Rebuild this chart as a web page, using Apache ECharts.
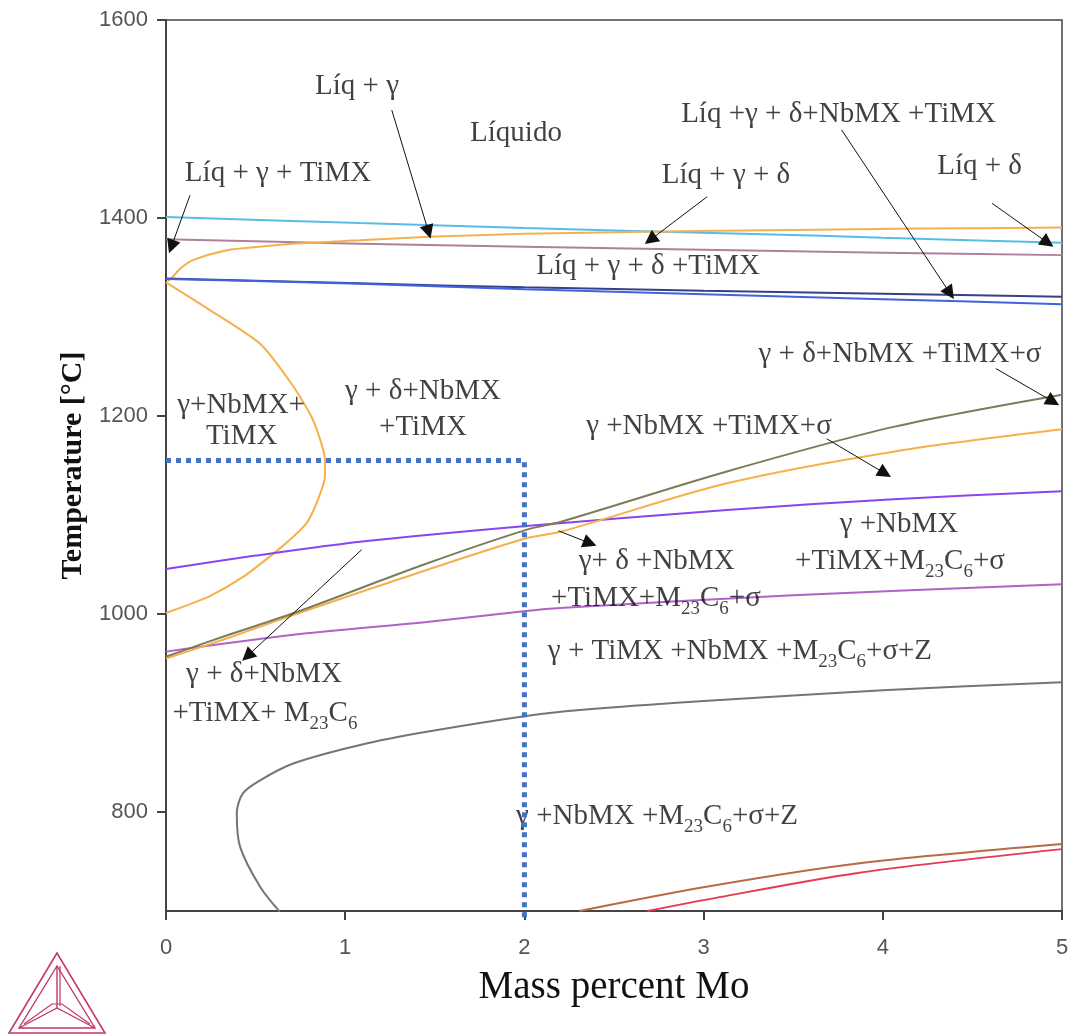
<!DOCTYPE html>
<html><head><meta charset="utf-8">
<script src="https://cdn.jsdelivr.net/npm/echarts@6/dist/echarts.min.js"></script>
<style>html,body{margin:0;padding:0;background:#fff}#c{width:1073px;height:1036px}</style>
</head><body><div id="c"></div>
<script>
// ---- axis ticks ----
const xTicks = [0, 1, 2, 3, 4, 5];
const yTicks = [800, 1000, 1200, 1400, 1600];

// ---- phase boundaries [mass % Mo, T °C] ----
const cyanLine = [[0,1401],[1.08,1395],[2,1390],[3,1385],[3.66,1382],[4,1380],[5,1375]];
const mauveLine = [[0,1378.5],[1.08,1374],[2,1371],[3,1368],[4,1365],[5,1362.5]];
const orangeLiquidus = [[0.01,1336],[0.04,1341],[0.08,1349],[0.15,1357.5],[0.34,1367.5],[0.52,1371],[0.75,1374.5],[1.08,1377.5],[1.47,1381],[2,1384],[2.67,1386],[3.5,1388],[4.2,1389.3],[5,1390.3]];
const navyLine = [[0,1339],[1.08,1334],[2,1330],[3,1326.5],[4,1323.5],[5,1320.5]];
const blueLine = [[0,1338.5],[1.08,1333.5],[2,1328],[3,1323],[4,1318],[5,1313]];
const orangeSolvus = [[0,1335],[0.245,1307],[0.525,1273],[0.71,1230],[0.82,1196],[0.887,1156],[0.887,1139],[0.84,1112],[0.785,1092],[0.71,1078],[0.6,1061],[0.43,1037.5],[0.245,1018],[0.12,1009],[0,1001]];
const oliveLine = [[0,957],[0.35,979],[0.71,1000.7],[1.455,1051],[2.01,1085],[2.2,1093],[3.13,1144],[4.06,1189],[5,1221.5]];
const orangeSigma = [[0,955],[0.35,976],[0.71,999],[1.455,1044.5],[2.01,1076.5],[2.2,1083],[3.13,1132],[4.06,1164],[5,1186.5]];
const violetLine = [[0,1045.5],[0.5,1059],[1.083,1073],[2.01,1089],[3.13,1105],[4.06,1116],[5,1124]];
const magentaLine = [[0,962],[0.71,979],[1.455,992],[2.01,1003],[2.2,1006],[3.5,1019],[5,1030]];
const greyLine = [[5,931],[4,923],[3,912],[2.31,903],[2.01,897],[1.455,881],[1.083,867.7],[0.71,849],[0.525,832],[0.43,819],[0.395,799],[0.413,765],[0.525,724.5],[0.636,699]];
const brownLine = [[2.307,700],[3.015,724.5],[3.86,748],[5,767.6]];
const redLine = [[2.687,700],[3.0,711],[3.86,738.5],[5,762.5]];

// ---- highlighted composition window ----
const dottedFrame = [[0,1155],[2,1155],[2,689]];

// ---- region labels [x, T, text] ----
const regionLabels = [
  [1.066,1533,'Líq + γ'],
  [1.953,1485.9,'Líquido'],
  [0.625,1445.5,'Líq + γ + TiMX'],
  [3.753,1505.1,'Líq +γ + δ+NbMX +TiMX'],
  [3.125,1443.4,'Líq + γ + δ'],
  [4.540,1452.5,'Líq + δ'],
  [2.690,1351.5,'Líq + γ + δ +TiMX'],
  [4.096,1262.6,'γ + δ+NbMX +TiMX+σ'],
  [0.419,1211.1,'γ+NbMX+'],
  [0.422,1179.8,'TiMX'],
  [1.434,1225.3,'γ + δ+NbMX'],
  [1.434,1188.4,'+TiMX'],
  [3.030,1189.9,'γ +NbMX +TiMX+σ'],
  [4.090,1090.9,'γ +NbMX'],
  [4.096,1053.5,'+TiMX+M{s|23}C{s|6}+σ'],
  [2.738,1053.5,'γ+ δ +NbMX'],
  [2.734,1016.2,'+TiMX+M{s|23}C{s|6}+σ'],
  [3.203,962.6,'γ + TiMX +NbMX +M{s|23}C{s|6}+σ+Z'],
  [0.547,939.4,'γ + δ+NbMX'],
  [0.552,900,'+TiMX+ M{s|23}C{s|6}'],
  [2.740,796,'γ +NbMX +M{s|23}C{s|6}+σ+Z']
];

// ---- annotation arrows [from, to] ----
const arrows = [
  [[1.26,1509],[1.465,1386]],
  [[0.134,1423],[0.03,1371]],
  [[3.02,1421.5],[2.703,1378]],
  [[3.77,1489],[4.375,1324]],
  [[4.61,1414.8],[4.92,1375]],
  [[4.63,1248],[4.95,1214.5]],
  [[3.687,1177],[4.012,1142]],
  [[2.19,1084],[2.366,1071.5]],
  [[1.092,1065],[0.454,957.5]]
];

const serif = "'Liberation Serif','Times New Roman',serif";
const sans = "'Liberation Sans',Arial,sans-serif";

function curve(data, color, smooth) {
  return { type:'line', data, symbol:'none', smooth: smooth === undefined ? 0.3 : smooth,
    lineStyle:{ color, width:2 }, silent:true, z:2, animation:false };
}

const series = [
  curve(cyanLine,'#58bde6'),
  curve(mauveLine,'#b07f9c'),
  curve(orangeLiquidus,'#f5b04c'),
  curve(navyLine,'#34428a'),
  curve(blueLine,'#4262e0'),
  curve(orangeSolvus,'#f5b04c',0.2),
  curve(magentaLine,'#b063c6'),
  curve(violetLine,'#8a45f0'),
  curve(orangeSigma,'#f5b04c'),
  curve(oliveLine,'#7e7b58'),
  curve(greyLine,'#757575'),
  curve(brownLine,'#b86a44'),
  curve(redLine,'#e63a52'),
  {
    type:'scatter', silent:true, z:3, animation:false,
    symbolSize:1, itemStyle:{color:'rgba(0,0,0,0)'},
    data: regionLabels.map(l => ({ value:[l[0], l[1]], label:{ formatter:l[2] } })),
    label:{ show:true, position:'inside', align:'center', verticalAlign:'middle',
      fontFamily:serif, fontSize:29, color:'#111',
      rich:{ s:{ fontFamily:serif, fontSize:19, color:'#111', padding:[22,0,0,0] } } }
  },
  {
    type:'lines', coordinateSystem:'cartesian2d', silent:true, z:4, animation:false,
    symbol:['none','triangle'], symbolSize:14,
    lineStyle:{ color:'#111', width:1, opacity:1 },
    data: arrows.map(a => ({ coords:a }))
  },
  {
    type:'line', data:dottedFrame, symbol:'none', clip:false, silent:true, z:6, animation:false,
    lineStyle:{ color:'#4472c4', width:5, type:[5,5], cap:'butt' }
  }
];

const logoColor = '#c23a63';
const graphic = [
  { type:'polygon', shape:{ points:[[57,953],[9,1033],[105,1033]] }, style:{ fill:null, stroke:logoColor, lineWidth:1.6 } },
  { type:'polygon', shape:{ points:[[57,966],[19,1028],[95,1028]] }, style:{ fill:null, stroke:logoColor, lineWidth:1.4 } },
  { type:'polyline', shape:{ points:[[57,966],[57,1008]] }, style:{ stroke:logoColor, lineWidth:1.4 } },
  { type:'polyline', shape:{ points:[[60,966],[60,1006]] }, style:{ stroke:logoColor, lineWidth:1.2 } },
  { type:'polyline', shape:{ points:[[19,1028],[57,1008],[95,1028]] }, style:{ stroke:logoColor, lineWidth:1.4, fill:null } },
  { type:'polyline', shape:{ points:[[24,1024],[52,1004],[57,1004],[62,1004],[90,1024]] }, style:{ stroke:logoColor, lineWidth:1.2, fill:null } }
];

const chart = echarts.init(document.getElementById('c'), null, { renderer:'canvas' });
chart.setOption({
  animation:false,
  backgroundColor:'#fff',
  grid:{ left:166, right:11, top:20, bottom:125, show:true, borderColor:'#444', borderWidth:1.5, containLabel:false },
  xAxis:{
    type:'value', min:0, max:5, interval:1,
    name:'Mass percent Mo', nameLocation:'middle', nameGap:57,
    nameTextStyle:{ fontFamily:serif, fontSize:39, color:'#111' },
    axisLine:{ show:true, lineStyle:{ color:'#444', width:2 } },
    axisTick:{ show:true, inside:false, length:9, lineStyle:{ color:'#444', width:2 } },
    axisLabel:{ fontFamily:sans, fontSize:22, color:'#555', margin:26,
      formatter: v => xTicks.indexOf(v) >= 0 ? String(v) : '' },
    splitLine:{ show:false }
  },
  yAxis:{
    type:'value', min:700, max:1600,
    name:'Temperature [°C]', nameLocation:'middle', nameGap:77, nameRotate:90,
    nameTextStyle:{ fontFamily:serif, fontSize:30, fontWeight:'bold', color:'#111' },
    axisLine:{ show:true, lineStyle:{ color:'#444', width:2 } },
    axisTick:{ show:true, inside:false, length:9, customValues:yTicks, lineStyle:{ color:'#444', width:2 } },
    axisLabel:{ fontFamily:sans, fontSize:22, color:'#555', margin:18, customValues:yTicks,
      formatter: v => String(v) },
    splitLine:{ show:false }
  },
  series,
  graphic
});
</script></body></html>
